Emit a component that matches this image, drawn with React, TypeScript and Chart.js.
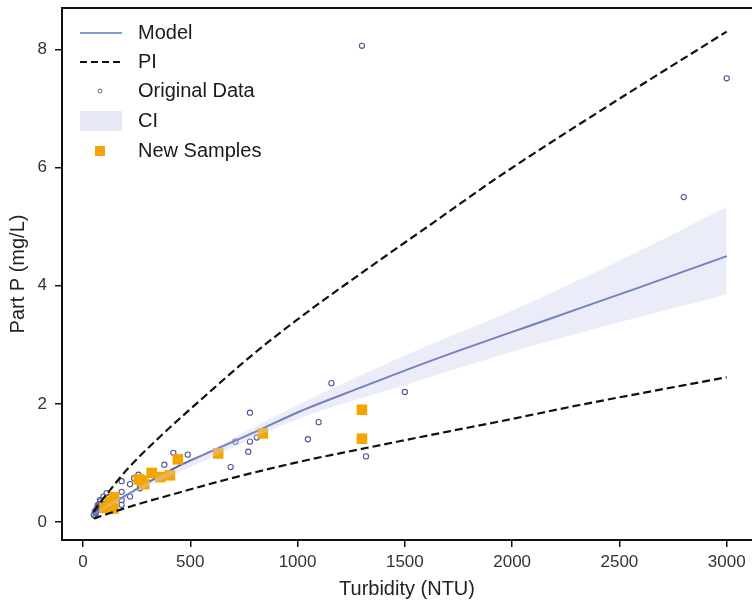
import React, { useEffect, useRef } from "react";
import { Chart, registerables } from "chart.js";

Chart.register(...registerables);

// ---- Data ----
const xTicks = [0, 500, 1000, 1500, 2000, 2500, 3000];
const yTicks = [0, 2, 4, 6, 8];

const modelX = [50, 100, 200, 300, 420, 600, 800, 1010, 1290, 1630, 2160, 2600, 3000];
const modelY = [0.13, 0.24, 0.45, 0.66, 0.9, 1.2, 1.52, 1.87, 2.27, 2.74, 3.42, 3.98, 4.5];

const piUpperX = [50, 80, 126, 203, 343, 590, 780, 1000, 1320, 1630, 1940, 2420, 3000];
const piUpperY = [0.17, 0.33, 0.54, 0.88, 1.39, 2.2, 2.8, 3.43, 4.27, 5.06, 5.85, 6.98, 8.3];

const piLowerX = [50, 100, 200, 450, 670, 1010, 1290, 1480, 1700, 1940, 2315, 3000];
const piLowerY = [0.06, 0.12, 0.24, 0.5, 0.72, 1.02, 1.23, 1.37, 1.53, 1.7, 1.98, 2.45];

const ciX = [50, 200, 500, 1000, 1500, 2000, 2500, 3000];
const ciUpper = [0.15, 0.48, 1.04, 1.98, 2.82, 3.58, 4.42, 5.33];
const ciLower = [0.11, 0.42, 0.93, 1.74, 2.32, 2.88, 3.38, 3.85];

const origX = [50, 55, 58, 60, 62, 65, 68, 70, 75, 79, 80, 90, 95, 100, 110, 120, 130, 141, 150, 180, 180, 180, 180, 219, 219, 238, 258, 265, 379, 421, 488, 688, 710, 770, 778, 778, 810, 1048, 1098, 1158, 1300, 1319, 1500, 2800, 3000];
const origY = [0.12, 0.18, 0.1, 0.15, 0.2, 0.22, 0.28, 0.25, 0.3, 0.37, 0.35, 0.25, 0.43, 0.3, 0.49, 0.42, 0.33, 0.2, 0.45, 0.29, 0.37, 0.51, 0.69, 0.43, 0.64, 0.74, 0.8, 0.57, 0.97, 1.17, 1.14, 0.93, 1.36, 1.19, 1.36, 1.85, 1.43, 1.4, 1.69, 2.35, 8.06, 1.11, 2.2, 5.5, 7.51];

const newX = [100, 126, 141, 145, 260, 273, 285, 320, 360, 405, 442, 630, 838, 1300, 1300];
const newY = [0.24, 0.34, 0.23, 0.42, 0.72, 0.7, 0.64, 0.83, 0.76, 0.79, 1.06, 1.16, 1.5, 1.9, 1.41];

const legendLabels = ["Model", "PI", "Original Data", "CI", "New Samples"];

// ---- Styles ----
const FONT = "'Liberation Sans', Arial, Helvetica, sans-serif";
const MODEL_COLOR = "#3f51a3";
const CI_COLOR = "rgba(200, 208, 236, 0.38)";
const ORIG_COLOR = "#4a5896";
const NEW_COLOR = "#f5a500";

const pts = (xs: number[], ys: number[]) => xs.map((x, i) => ({ x, y: ys[i] }));

const frameAndLegend = {
  id: "frameAndLegend",
  afterDraw(chart: any) {
    const { ctx, chartArea } = chart;
    ctx.save();
    // top frame line
    ctx.strokeStyle = "#111";
    ctx.lineWidth = 2;
    ctx.beginPath();
    ctx.moveTo(chartArea.left - 1, chartArea.top);
    ctx.lineTo(chartArea.right + 2, chartArea.top);
    ctx.stroke();

    // legend
    const x0 = chartArea.left + 18;
    const x1 = chartArea.left + 60;
    const xm = chartArea.left + 38;
    const textX = chartArea.left + 76;
    const ys = [33, 62, 91, 121, 151];
    ctx.font = `20px ${FONT}`;
    ctx.textBaseline = "middle";
    ctx.textAlign = "left";

    // Model
    ctx.strokeStyle = "#5b7cbf";
    ctx.lineWidth = 1.5;
    ctx.setLineDash([]);
    ctx.beginPath();
    ctx.moveTo(x0, ys[0]);
    ctx.lineTo(x1, ys[0]);
    ctx.stroke();
    // PI
    ctx.strokeStyle = "#111";
    ctx.lineWidth = 2;
    ctx.setLineDash([7, 4]);
    ctx.beginPath();
    ctx.moveTo(x0, ys[1]);
    ctx.lineTo(x1, ys[1]);
    ctx.stroke();
    ctx.setLineDash([]);
    // Original data
    ctx.strokeStyle = "#666";
    ctx.lineWidth = 1;
    ctx.beginPath();
    ctx.arc(xm, ys[2], 2, 0, Math.PI * 2);
    ctx.stroke();
    // CI
    ctx.fillStyle = "rgba(214, 219, 238, 0.6)";
    ctx.fillRect(x0, ys[3] - 10, x1 - x0, 20);
    // New samples
    ctx.fillStyle = NEW_COLOR;
    ctx.fillRect(xm - 5, ys[4] - 5, 10, 10);

    ctx.fillStyle = "#1a1a1a";
    legendLabels.forEach((t, i) => ctx.fillText(t, textX, ys[i]));
    ctx.restore();
  },
};

export default function App() {
  const ref = useRef<HTMLCanvasElement | null>(null);

  useEffect(() => {
    if (!ref.current) return;
    const lineBase = {
      type: "line" as const,
      pointRadius: 0,
      pointHoverRadius: 0,
      cubicInterpolationMode: "monotone" as const,
    };
    const chart = new Chart(ref.current, {
      type: "scatter",
      data: {
        datasets: [
          {
            ...lineBase,
            label: "CI upper",
            data: pts(ciX, ciUpper),
            borderWidth: 0,
            borderColor: "rgba(0,0,0,0)",
            backgroundColor: CI_COLOR,
            fill: "+1",
          },
          {
            ...lineBase,
            label: "CI lower",
            data: pts(ciX, ciLower),
            borderWidth: 0,
            borderColor: "rgba(0,0,0,0)",
            fill: false,
          },
          {
            ...lineBase,
            label: "PI upper",
            data: pts(piUpperX, piUpperY),
            borderColor: "#111",
            borderWidth: 2.2,
            borderDash: [8, 4],
            fill: false,
          },
          {
            ...lineBase,
            label: "PI lower",
            data: pts(piLowerX, piLowerY),
            borderColor: "#111",
            borderWidth: 2.2,
            borderDash: [8, 4],
            fill: false,
          },
          {
            label: "New Samples",
            data: pts(newX, newY),
            pointStyle: "rect",
            pointRadius: 7.5,
            backgroundColor: NEW_COLOR,
            borderColor: NEW_COLOR,
            borderWidth: 0,
          },
          {
            ...lineBase,
            label: "Model",
            data: pts(modelX, modelY),
            borderColor: MODEL_COLOR,
            borderWidth: 2,
            fill: false,
          },
          {
            label: "Original Data",
            data: pts(origX, origY),
            pointStyle: "circle",
            pointRadius: 2.6,
            backgroundColor: "rgba(255,255,255,0)",
            borderColor: ORIG_COLOR,
            borderWidth: 1.1,
          },
        ] as any,
      },
      options: {
        responsive: false,
        animation: false,
        events: [],
        layout: { autoPadding: false, padding: { top: 8, right: 0, left: 0, bottom: 0 } },
        plugins: {
          legend: { display: false },
          tooltip: { enabled: false },
        },
        scales: {
          x: {
            type: "linear",
            min: -98,
            max: 3118,
            afterFit: (s: any) => {
              s.height = 63;
              s.paddingLeft = 0;
              s.paddingRight = 0;
            },
            afterBuildTicks: (s: any) => {
              s.ticks = xTicks.map((v) => ({ value: v }));
            },
            grid: {
              drawOnChartArea: false,
              drawTicks: true,
              tickLength: 7,
              color: "#111",
              lineWidth: 1.5,
            },
            border: { display: true, color: "#111", width: 2 },
            ticks: {
              padding: 5,
              color: "#333",
              font: { family: FONT, size: 17 },
              maxRotation: 0,
              callback: (v: any) => String(v),
            },
            title: {
              display: true,
              text: "Turbidity (NTU)",
              color: "#222",
              font: { family: FONT, size: 20 },
              padding: { top: 0, bottom: 2 },
            },
          },
          y: {
            type: "linear",
            min: -0.305,
            max: 8.7,
            afterFit: (s: any) => {
              s.width = 62;
              s.paddingTop = 0;
              s.paddingBottom = 0;
            },
            afterBuildTicks: (s: any) => {
              s.ticks = yTicks.map((v) => ({ value: v }));
            },
            grid: {
              drawOnChartArea: false,
              drawTicks: true,
              tickLength: 7,
              color: "#111",
              lineWidth: 1.5,
            },
            border: { display: true, color: "#111", width: 2 },
            ticks: {
              padding: 8,
              color: "#333",
              font: { family: FONT, size: 17 },
              callback: (v: any) => String(v),
            },
            title: {
              display: true,
              text: "Part P (mg/L)",
              color: "#222",
              font: { family: FONT, size: 20 },
              padding: { top: 6, bottom: 0 },
            },
          },
        },
      },
      plugins: [frameAndLegend],
    });
    return () => chart.destroy();
  }, []);

  return (
    <div
      style={{
        position: "fixed",
        left: 0,
        top: 0,
        width: 752,
        height: 603,
        background: "#fff",
      }}
    >
      <canvas ref={ref} width={752} height={603} style={{ display: "block" }} />
    </div>
  );
}
